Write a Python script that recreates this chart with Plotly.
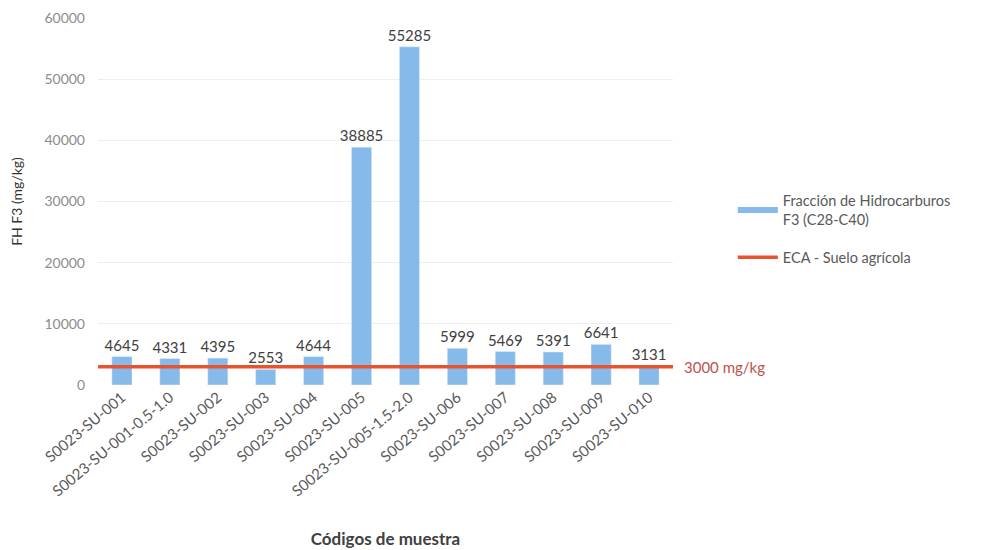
import plotly.graph_objects as go

categories = ["S0023-SU-001", "S0023-SU-001-0.5-1.0", "S0023-SU-002", "S0023-SU-003",
              "S0023-SU-004", "S0023-SU-005", "S0023-SU-005-1.5-2.0", "S0023-SU-006",
              "S0023-SU-007", "S0023-SU-008", "S0023-SU-009", "S0023-SU-010"]
fh_f3 = [4645, 4331, 4395, 2553, 4644, 38885, 55285, 5999, 5469, 5391, 6641, 3131]
eca_value = 3000
y_ticks = [0, 10000, 20000, 30000, 40000, 50000, 60000]

bar_color = "#85BAEA"
line_color = "#E9522C"
font_family = "Lato, 'Open Sans', sans-serif"

fig = go.Figure()
fig.add_trace(go.Bar(
    x=categories, y=fh_f3, marker_color=bar_color, showlegend=False,
    text=[str(v) for v in fh_f3], textposition="outside", constraintext="none",
    textfont=dict(size=15, color="#404040", family=font_family),
    cliponaxis=False,
))
# legend entries
fig.add_trace(go.Scatter(x=[None], y=[None], mode="lines", legendgroup="bars",
                         line=dict(color=bar_color, width=6),
                         name="Fracción de Hidrocarburos<br>F3 (C28-C40)"))
fig.add_trace(go.Scatter(x=[None], y=[None], mode="lines", legendgroup="eca",
                         line=dict(color=line_color, width=3.5),
                         name="ECA - Suelo agrícola"))
# ECA line across plot width
fig.add_shape(type="line", xref="x domain", yref="y", x0=0, x1=1,
              y0=eca_value, y1=eca_value, line=dict(color=line_color, width=3.5))
fig.add_annotation(xref="x domain", yref="y", x=1.015, y=eca_value, xanchor="left",
                   text=f"{eca_value} mg/kg", showarrow=False,
                   font=dict(size=15, color="#C0504D", family=font_family))

fig.update_layout(
    width=981, height=550,
    margin=dict(l=90, r=316, t=10, b=173),
    paper_bgcolor="white", plot_bgcolor="white",
    font=dict(family=font_family, color="#595959"),
    bargap=0.58,
    legend=dict(x=1.104, y=0.425, xanchor="left", yanchor="middle",
                font=dict(size=14.5, color="#595959"), itemwidth=40,
                tracegroupgap=16, bgcolor="rgba(0,0,0,0)"),
    xaxis=dict(tickangle=-40, tickfont=dict(size=15, color="#595959"),
               automargin=False,
               title=dict(text="<b>Códigos de muestra</b>",
                          font=dict(size=17, color="#404040"), standoff=34),
               showline=False, ticks=""),
    yaxis=dict(range=[0, 60000], tickvals=y_ticks, ticktext=[str(t) for t in y_ticks],
               tickfont=dict(size=14, color="#8C8C8C"), automargin=False,
               ticklabelstandoff=12,
               gridcolor="#EEEEEE", zeroline=False, showline=False,
               title=dict(text="FH F3 (mg/kg)", font=dict(size=14, color="#333333"),
                          standoff=18)),
    showlegend=True,
)

fig.write_html("out.html")
